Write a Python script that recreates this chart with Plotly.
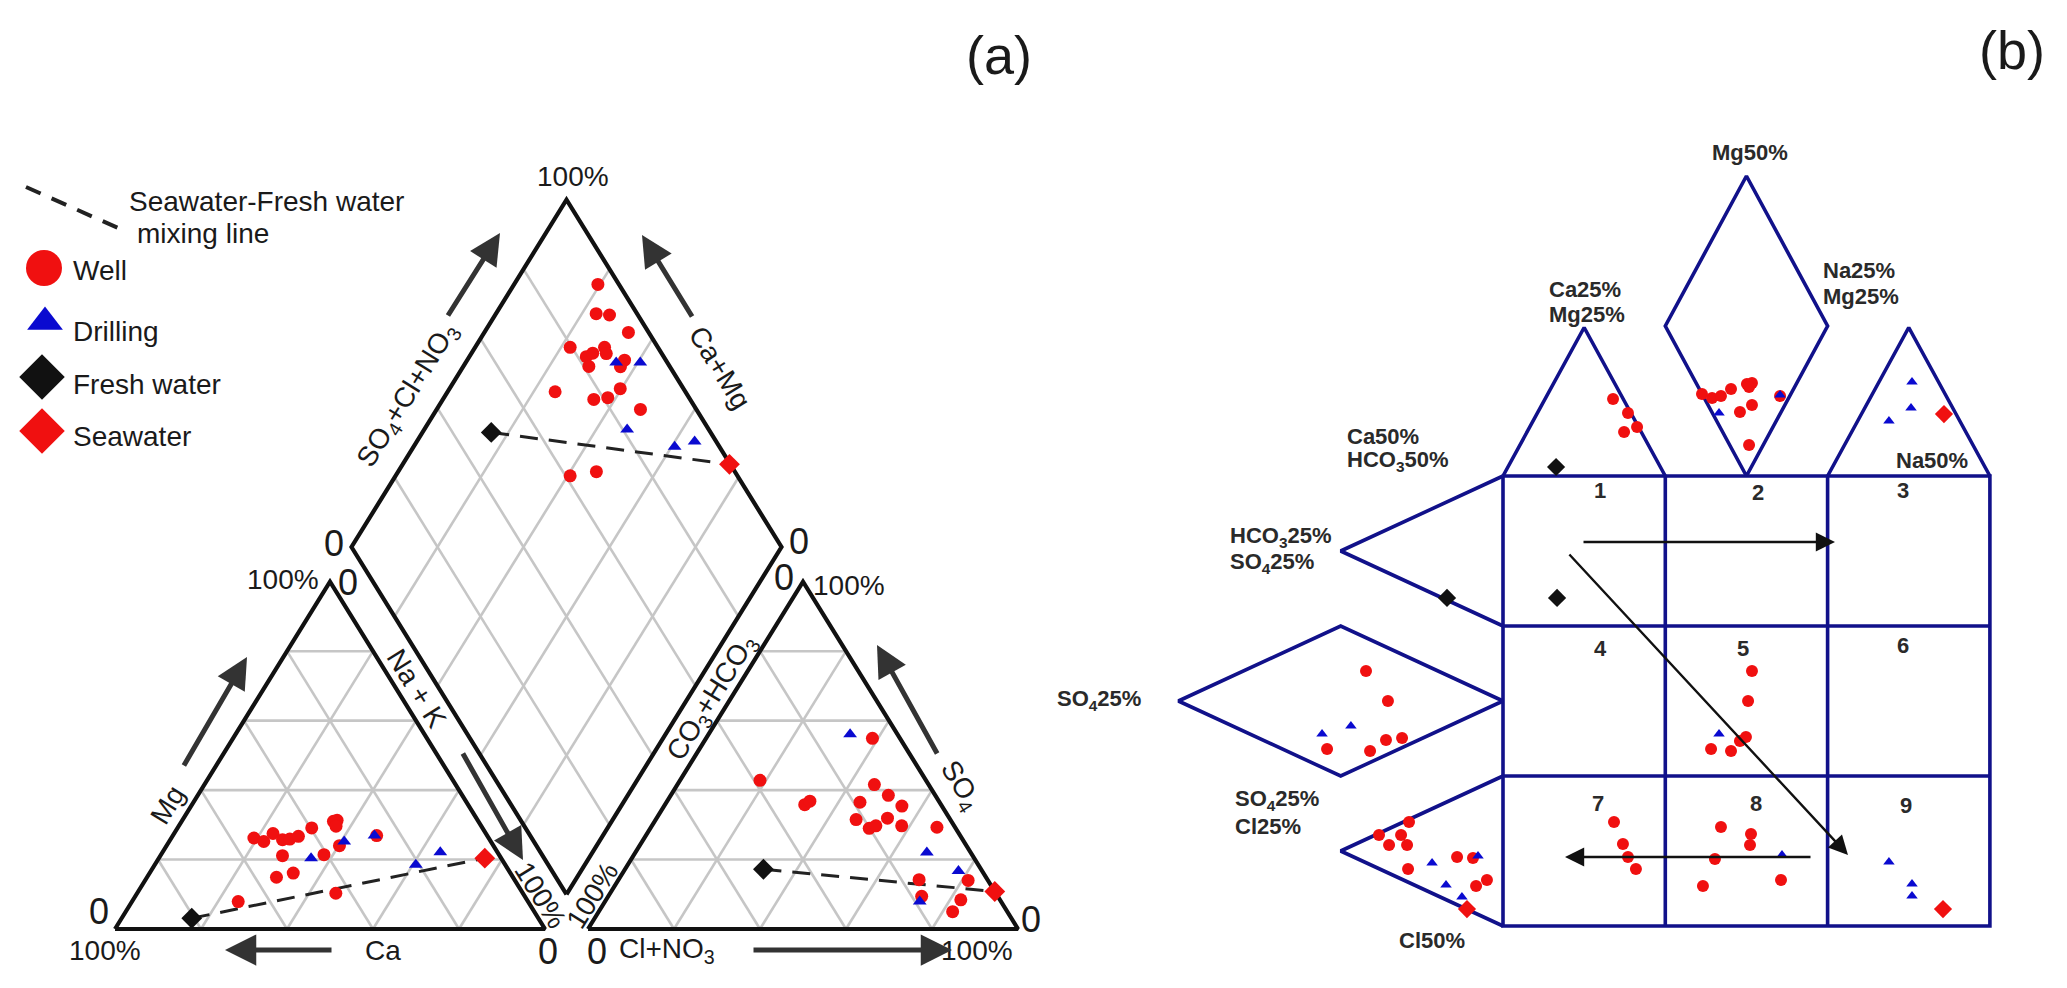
import math
import plotly.graph_objects as go

# ------------------------------------------------------------------
# DATA  -- panel (a): Piper diagram, percent of meq/L
# Cation triangle: Mg %, Na+K %   (Ca = 100 - Mg - Na)
well_cat_mg = [26.2, 25.2, 27.5, 25.7, 25.9, 26.7, 29.1, 31.0, 31.3, 29.6, 21.1, 21.4, 24.0, 14.9, 16.1, 7.9, 10.3, 26.9]
well_cat_na = [19.2, 22.0, 23.0, 26.1, 27.7, 29.3, 31.2, 35.3, 36.0, 36.6, 28.4, 37.9, 40.2, 30.1, 33.4, 24.7, 46.2, 47.4]
drill_cat_mg = [25.2, 26.9, 20.4, 18.5, 22.1]
drill_cat_na = [40.7, 46.9, 35.4, 60.7, 64.6]
fresh_cat_mg, fresh_cat_na = [3.1], [16.3]
sea_cat_mg, sea_cat_na = [20.4], [75.8]

# Anion triangle: SO4 %, Cl+NO3 %   (CO3+HCO3 = 100 - SO4 - Cl)
well_an_so4 = [54.9, 42.8, 35.8, 36.8, 41.6, 38.5, 35.4, 36.5, 31.5, 29.0, 29.7, 31.9, 29.7, 29.3, 14.2, 9.4, 14.0, 8.4, 5.0]
well_an_cl = [38.7, 18.6, 32.5, 33.2, 45.8, 50.6, 55.3, 45.0, 46.6, 50.9, 52.1, 53.7, 58.1, 66.5, 69.9, 72.9, 81.4, 82.5, 82.3]
drill_an_so4 = [56.1, 22.0, 16.7, 7.9]
drill_an_cl = [32.9, 67.8, 77.8, 73.2]
fresh_an_so4, fresh_an_cl = [17.2], [32.2]
sea_an_so4, sea_an_cl = [10.8], [89.2]

# Diamond: SO4+Cl+NO3 %, Ca+Mg %
well_dia_s = [95.1, 90.5, 93.4, 95.3, 79.6, 87.6, 82.0, 84.0, 87.1, 81.2, 90.4, 88.5, 69.7, 77.6, 81.1, 85.3, 87.0, 61.1, 67.8]
well_dia_c = [80.5, 76.7, 73.4, 66.5, 77.9, 69.9, 72.8, 71.8, 68.6, 70.8, 63.4, 63.4, 75.0, 64.9, 61.9, 60.3, 52.6, 59.4, 53.9]
drill_dia_s = [88.1, 93.7, 81.0, 89.6, 95.0]
drill_dia_c = [65.0, 59.4, 52.8, 39.3, 35.4]
fresh_dia_s, fresh_dia_c = [49.0], [84.0]
sea_dia_s, sea_dia_c = [99.8], [24.0]

# DATA  -- panel (b): expanded Durov diagram, positions in field units
# (x: cation columns 0..3, y: anion rows 0..3 downward; negative = side fields)
durov_well_x = [0.678, 0.770, 0.746, 0.826,
                1.226, 1.288, 1.343, 1.405, 1.503, 1.534, 1.516, 1.534, 1.460, 1.516, 1.707,
                -0.844, -0.709, -1.084, -0.819, -0.721, -0.622,
                -0.579, -0.764, -0.628, -0.702, -0.591, -0.585, -0.283, -0.185, -0.166, -0.099,
                1.534, 1.510, 1.497, 1.460, 1.282, 1.405,
                0.684, 0.739, 0.770, 0.819,
                1.343, 1.528, 1.522, 1.306, 1.232, 1.713]
durov_well_y = [-0.513, -0.420, -0.293, -0.327,
                -0.547, -0.520, -0.533, -0.580, -0.613, -0.620, -0.593, -0.473, -0.427, -0.207, -0.533,
                1.300, 1.500, 1.820, 1.833, 1.760, 1.747,
                2.307, 2.393, 2.393, 2.460, 2.460, 2.620, 2.540, 2.547, 2.733, 2.693,
                1.300, 1.500, 1.740, 1.767, 1.820, 1.833,
                2.307, 2.453, 2.540, 2.620,
                2.340, 2.387, 2.460, 2.553, 2.733, 2.693]
durov_drill_x = [1.331, 1.707, 2.520, 2.514, 2.378, -1.115, -0.937,
                 -0.437, -0.154, -0.351, -0.253, 1.331, 1.719, 2.378, 2.520, 2.520]
durov_drill_y = [-0.420, -0.540, -0.627, -0.453, -0.367, 1.720, 1.667,
                 2.580, 2.533, 2.727, 2.807, 1.720, 2.527, 2.573, 2.720, 2.800]
durov_fresh_x = [0.327, -0.345, 0.333]
durov_fresh_y = [-0.060, 0.813, 0.813]
durov_sea_x = [2.717, -0.222, 2.711]
durov_sea_y = [-0.413, 2.887, 2.887]

cell_labels = ["1", "2", "3", "4", "5", "6", "7", "8", "9"]

# ------------------------------------------------------------------
# LAYOUT GEOMETRY
W, H, OFF = 2051, 972, 8          # figure size; page body margin offset
S3 = math.sqrt(3) / 2
KX, KY = 4.3, 4.01                # screen px per Piper unit
AX0, AY0 = 115, 929               # screen px of cation-triangle Ca corner
GX0, GY0, CW, RH = 1503, 476, 162.3, 150.0   # Durov grid origin / cell size
SPLIT = 1040

RED, BLUE, BLACK = "#f01010", "#0a0ad0", "#111111"
NAVY = "#11118a"
GRAY = "#c6c6c6"
FONT = "Liberation Sans, Arial, sans-serif"


def pa(X, Y):
    return (X - AX0) / KX, (AY0 - Y) / KY


def pb(X, Y):
    return (X - GX0) / CW, (Y - GY0) / RH


def cat_xy(mg, na):
    return [n + m / 2 for m, n in zip(mg, na)], [m * S3 for m in mg]


def an_xy(so4, cl):
    return [110 + c + s / 2 for s, c in zip(so4, cl)], [s * S3 for s in so4]


def dia_xy(s, c):
    return ([105 + 0.5 * (a - b) for a, b in zip(s, c)],
            [10 * S3 + S3 * (a + b) for a, b in zip(s, c)])


fig = go.Figure()


def line_a(xs, ys, color, width, dash=None):
    fig.add_trace(go.Scatter(x=xs, y=ys, mode="lines", xaxis="x", yaxis="y",
                             line=dict(color=color, width=width, dash=dash),
                             hoverinfo="skip", showlegend=False))


def line_b(xs, ys, color, width):
    fig.add_trace(go.Scatter(x=xs, y=ys, mode="lines", xaxis="x2", yaxis="y2",
                             line=dict(color=color, width=width),
                             hoverinfo="skip", showlegend=False))


def pts(xs, ys, symbol, color, size, ax="x", ay="y"):
    fig.add_trace(go.Scatter(x=xs, y=ys, mode="markers", xaxis=ax, yaxis=ay,
                             marker=dict(symbol=symbol, color=color, size=size,
                                         line=dict(width=0)),
                             hoverinfo="skip", showlegend=False))


# ---------------- panel (a) grid ----------------
def tri_grid(x0):
    xs, ys = [], []
    for k in (20, 40, 60, 80):
        xs += [x0 + k / 2, x0 + 100 - k / 2, None]; ys += [k * S3, k * S3, None]
        xs += [x0 + k, x0 + k + (100 - k) / 2, None]; ys += [0, (100 - k) * S3, None]
        xs += [x0 + 100 - k, x0 + (100 - k) / 2, None]; ys += [0, (100 - k) * S3, None]
    return xs, ys


gx, gy = tri_grid(0)
line_a(gx, gy, GRAY, 2.6)
gx, gy = tri_grid(110)
line_a(gx, gy, GRAY, 2.6)
dx, dy = [], []
for k in (20, 40, 60, 80):
    a = dia_xy([k, k], [0, 100]); b = dia_xy([0, 100], [k, k])
    dx += a[0] + [None] + b[0] + [None]
    dy += a[1] + [None] + b[1] + [None]
line_a(dx, dy, GRAY, 2.6)

# outlines
line_a([0, 100, 50, 0], [0, 0, 100 * S3, 0], BLACK, 4.2)
line_a([110, 210, 160, 110], [0, 0, 100 * S3, 0], BLACK, 4.2)
ox, oy = dia_xy([0, 100, 100, 0, 0], [0, 0, 100, 100, 0])
line_a(ox, oy, BLACK, 4.2)

# mixing lines
for f, s in [(cat_xy(fresh_cat_mg, fresh_cat_na), cat_xy(sea_cat_mg, sea_cat_na)),
             (an_xy(fresh_an_so4, fresh_an_cl), an_xy(sea_an_so4, sea_an_cl)),
             (dia_xy(fresh_dia_s, fresh_dia_c), dia_xy(sea_dia_s, sea_dia_c))]:
    line_a(f[0] + s[0], f[1] + s[1], "#222222", 3, dash="18px,11px")

# samples
for fn, a1, a2, sym, col, sz in [
        (cat_xy, well_cat_mg, well_cat_na, "circle", RED, 13),
        (cat_xy, drill_cat_mg, drill_cat_na, "triangle-up", BLUE, 12),
        (cat_xy, fresh_cat_mg, fresh_cat_na, "diamond", BLACK, 16),
        (cat_xy, sea_cat_mg, sea_cat_na, "diamond", RED, 16),
        (an_xy, well_an_so4, well_an_cl, "circle", RED, 13),
        (an_xy, drill_an_so4, drill_an_cl, "triangle-up", BLUE, 12),
        (an_xy, fresh_an_so4, fresh_an_cl, "diamond", BLACK, 16),
        (an_xy, sea_an_so4, sea_an_cl, "diamond", RED, 16),
        (dia_xy, well_dia_s, well_dia_c, "circle", RED, 13),
        (dia_xy, drill_dia_s, drill_dia_c, "triangle-up", BLUE, 12),
        (dia_xy, fresh_dia_s, fresh_dia_c, "diamond", BLACK, 16),
        (dia_xy, sea_dia_s, sea_dia_c, "diamond", RED, 16)]:
    xs, ys = fn(a1, a2)
    pts(xs, ys, sym, col, sz)

# legend swatches (panel a)
l1, l2 = pa(26, 187), pa(127, 232)
line_a([l1[0], l2[0]], [l1[1], l2[1]], "#222222", 4, dash="16px,12px")
for (X, Y), sym, col, sz in [((44, 268), "circle", RED, 36),
                             ((45, 322), "triangle-up", BLUE, 31),
                             ((42, 377), "diamond", BLACK, 35),
                             ((42, 431), "diamond", RED, 35)]:
    p = pa(X, Y)
    pts([p[0]], [p[1]], sym, col, sz)

# ---------------- panel (b) ----------------
line_b([0, 3, 3, 0, 0], [0, 0, 3, 3, 0], NAVY, 3.6)
line_b([1, 1, None, 2, 2, None, 0, 3, None, 0, 3],
       [0, 3, None, 0, 3, None, 1, 1, None, 2, 2], NAVY, 3.6)
line_b([0, 0.5, 1], [0, -0.99, 0], NAVY, 3.6)
line_b([1.5, 1, 1.5, 2, 1.5], [0, -1, -2, -1, 0], NAVY, 3.6)
line_b([2, 2.5, 3], [0, -0.99, 0], NAVY, 3.6)
line_b([0, -1, 0], [0, 0.5, 1], NAVY, 3.6)
line_b([0, -1, -2, -1, 0], [1.5, 1, 1.5, 2, 1.5], NAVY, 3.6)
line_b([0, -1, 0], [2, 2.5, 3], NAVY, 3.6)

pts(durov_well_x, durov_well_y, "circle", RED, 12, "x2", "y2")
pts(durov_drill_x, durov_drill_y, "triangle-up", BLUE, 10, "x2", "y2")
pts(durov_fresh_x, durov_fresh_y, "diamond", BLACK, 14, "x2", "y2")
pts(durov_sea_x, durov_sea_y, "diamond", RED, 14, "x2", "y2")

# ---------------- annotations ----------------
ann = []


def txt_a(X, Y, t, size=28, angle=0, xanchor="center"):
    x, y = pa(X, Y)
    ann.append(dict(x=x, y=y, xref="x", yref="y", text=t, showarrow=False,
                    textangle=angle, xanchor=xanchor, yanchor="middle",
                    font=dict(family=FONT, size=size, color="#1a1a1a")))


def txt_b(X, Y, t, size=22, xanchor="center"):
    x, y = pb(X, Y)
    ann.append(dict(x=x, y=y, xref="x2", yref="y2", text="<b>" + t + "</b>",
                    showarrow=False, xanchor=xanchor, yanchor="middle",
                    font=dict(family=FONT, size=size, color="#2a2a2a")))


def arrow_a(X0, Y0, X1, Y1):
    x0, y0 = pa(X0, Y0); x1, y1 = pa(X1, Y1)
    ann.append(dict(x=x1, y=y1, ax=x0, ay=y0, xref="x", yref="y", axref="x", ayref="y",
                    text="", showarrow=True, arrowhead=2, arrowsize=1.25,
                    arrowwidth=5, arrowcolor="#333333"))


def arrow_b(X0, Y0, X1, Y1):
    x0, y0 = pb(X0, Y0); x1, y1 = pb(X1, Y1)
    ann.append(dict(x=x1, y=y1, ax=x0, ay=y0, xref="x2", yref="y2", axref="x2", ayref="y2",
                    text="", showarrow=True, arrowhead=2, arrowsize=1.6,
                    arrowwidth=2.4, arrowcolor="#111111"))


ANG = 58.2
txt_a(999, 55, "(a)", size=54)
txt_a(573, 176, "100%")
txt_a(334, 543, "0", size=36)
txt_a(799, 541, "0", size=36)
txt_a(283, 579, "100%")
txt_a(348, 582, "0", size=36)
txt_a(784, 577, "0", size=36)
txt_a(849, 585, "100%")
txt_a(99, 911, "0", size=36)
txt_a(1031, 919, "0", size=36)
txt_a(105, 950, "100%")
txt_a(383, 950, "Ca")
txt_a(548, 951, "0", size=36)
txt_a(597, 951, "0", size=36)
txt_a(667, 950, "Cl+NO<sub>3</sub>")
txt_a(977, 950, "100%")
txt_a(408, 395, "SO<sub>4</sub>+Cl+NO<sub>3</sub>", angle=-ANG)
txt_a(720, 367, "Ca+Mg", angle=ANG)
txt_a(167, 805, "Mg", angle=-ANG)
txt_a(417, 688, "Na + K", angle=ANG)
txt_a(541, 895, "100%", angle=ANG)
txt_a(712, 698, "CO<sub>3</sub>+HCO<sub>3</sub>", angle=-ANG)
txt_a(960, 785, "SO<sub>4</sub>", angle=ANG)
txt_a(592, 895, "100%", angle=-ANG)
# legend texts
txt_a(127, 201, "Seawater-Fresh water", xanchor="left")
txt_a(135, 233, "mixing line", xanchor="left")
txt_a(71, 270, "Well", xanchor="left")
txt_a(71, 331, "Drilling", xanchor="left")
txt_a(71, 384, "Fresh water", xanchor="left")
txt_a(71, 436, "Seawater", xanchor="left")

arrow_a(447, 317, 500, 233)
arrow_a(693, 318, 642, 235)
arrow_a(183, 767, 247, 657)
arrow_a(462, 752, 523, 860)
arrow_a(938, 755, 877, 645)
arrow_a(333, 950, 225, 950)
arrow_a(752, 950, 952, 950)

# panel (b) texts
txt_b(2012, 50, "", size=10)
ann[-1]["text"] = "(b)"
ann[-1]["font"] = dict(family=FONT, size=54, color="#1a1a1a")
txt_b(1750, 152, "Mg50%")
txt_b(1547, 289, "Ca25%", xanchor="left")
txt_b(1547, 314, "Mg25%", xanchor="left")
txt_b(1821, 270, "Na25%", xanchor="left")
txt_b(1821, 296, "Mg25%", xanchor="left")
txt_b(1894, 460, "Na50%", xanchor="left")
txt_b(1345, 436, "Ca50%", xanchor="left")
txt_b(1345, 461, "HCO<sub>3</sub>50%", xanchor="left")
txt_b(1228, 537, "HCO<sub>3</sub>25%", xanchor="left")
txt_b(1228, 563, "SO<sub>4</sub>25%", xanchor="left")
txt_b(1055, 700, "SO<sub>4</sub>25%", xanchor="left")
txt_b(1233, 800, "SO<sub>4</sub>25%", xanchor="left")
txt_b(1233, 826, "Cl25%", xanchor="left")
txt_b(1397, 940, "Cl50%", xanchor="left")
cell_pos = [(1600, 490), (1758, 492), (1903, 490),
            (1600, 648), (1743, 648), (1903, 645),
            (1598, 803), (1756, 803), (1906, 805)]
for lab, (X, Y) in zip(cell_labels, cell_pos):
    txt_b(X, Y, lab)

arrow_b(1582, 542, 1835, 542)
arrow_b(1568, 553, 1848, 855)
arrow_b(1812, 857, 1565, 857)

# ---------------- axes ----------------
xa0, xa1 = pa(OFF, 0)[0], pa(SPLIT, 0)[0]
ya0, ya1 = pa(0, OFF + H)[1], pa(0, OFF)[1]
xb0, xb1 = pb(SPLIT, 0)[0], pb(OFF + W, 0)[0]
yb_top, yb_bot = pb(0, OFF)[1], pb(0, OFF + H)[1]
ax_common = dict(visible=False, showgrid=False, zeroline=False, fixedrange=True)

fig.update_layout(
    width=W, height=H, margin=dict(l=0, r=0, t=0, b=0),
    paper_bgcolor="white", plot_bgcolor="rgba(0,0,0,0)",
    showlegend=False, annotations=ann,
    xaxis=dict(domain=[0, (SPLIT - OFF) / W], range=[xa0, xa1], **ax_common),
    yaxis=dict(domain=[0, 1], range=[ya0, ya1], **ax_common),
    xaxis2=dict(domain=[(SPLIT - OFF) / W, 1], range=[xb0, xb1], anchor="y2", **ax_common),
    yaxis2=dict(domain=[0, 1], range=[yb_bot, yb_top], anchor="x2", **ax_common),
)

fig.write_html("out.html", config={"displayModeBar": False})
